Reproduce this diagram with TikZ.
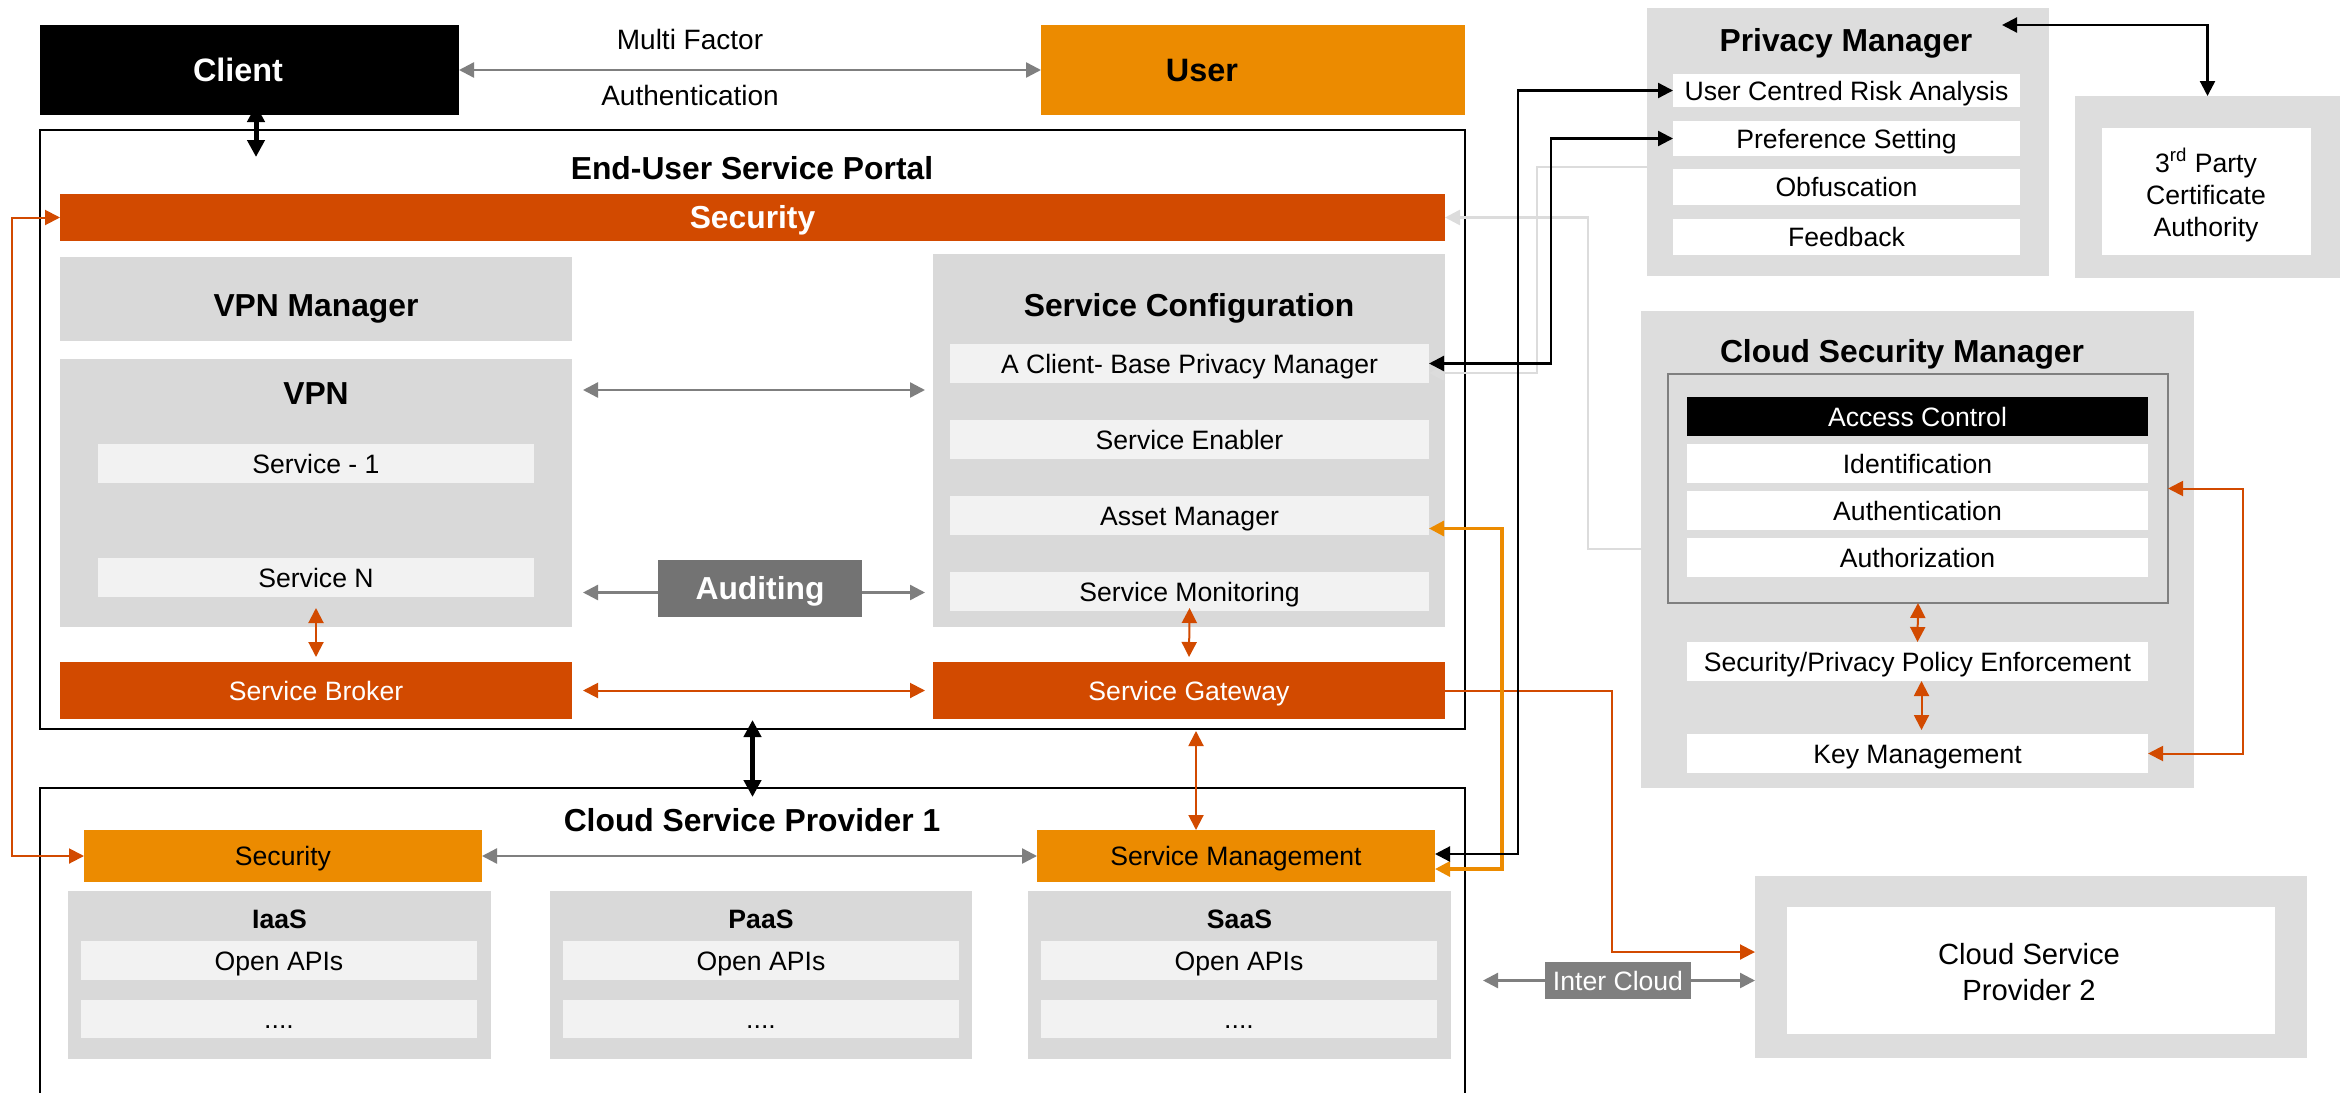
\documentclass[tikz,border=0pt]{standalone}
\usepackage{fontspec}
\setmainfont{Liberation Sans}
\usetikzlibrary{arrows.meta,calc}

\definecolor{rust}{HTML}{D24A00}
\definecolor{amber}{HTML}{EC8B00}
\definecolor{panel}{HTML}{D9D9D9}
\definecolor{panelR}{HTML}{DDDDDD}
\definecolor{slot}{HTML}{F2F2F2}
\definecolor{midgray}{HTML}{7F7F7F}
\definecolor{audit}{HTML}{737373}
\definecolor{faint}{HTML}{DCDCDC}

% box from corner (x1,y1) to (x2,y2), in picture units
\newcommand{\mkbox}[7][]{%
  \pgfmathsetmacro\mkW{(#5-#3)*0.5}%
  \pgfmathsetmacro\mkH{(#6-#4)*0.5}%
  \node[panelbox,#1,minimum width=\mkW pt,minimum height=\mkH pt] (#2) at ({(#3+#5)/2},{(#4+#6)/2}) {#7};}

\tikzset{
  reg/.style={font=\fontsize{13.3}{16}\selectfont, text height=9.52pt, text depth=0pt},
  head/.style={font=\fontsize{15.9}{19}\selectfont\bfseries, text height=11.38pt, text depth=0pt},
  subhead/.style={font=\fontsize{13.3}{16}\selectfont\bfseries, text height=9.52pt, text depth=0pt},
  bighead/.style={font=\fontsize{16.2}{19}\selectfont\bfseries, text height=11.6pt, text depth=0pt},
  panelbox/.style={inner sep=0pt, outer sep=0pt, draw=none, anchor=center, reg},
  lbl/.style={inner sep=0pt, outer sep=0pt, anchor=center},
  gline/.style={draw=midgray, line width=1.2pt},
  rline/.style={draw=rust, line width=1pt},
  kline/.style={draw=black, line width=1.15pt},
  aline/.style={draw=amber, line width=1.6pt},
  fline/.style={draw=faint, line width=1.3pt},
  bigk/.style={draw=black, line width=2.5pt, >={Triangle[length=8.5pt,width=8.5pt]}},
}

\begin{document}
\begin{tikzpicture}[x=0.5pt,y=-0.5pt,>={Triangle[length=7.5pt,width=7.5pt]}]
\useasboundingbox (0,0) rectangle (2349,1092);
\fill[white] (0,0) rectangle (2349,1092);

% ---------- top row ----------
\mkbox[fill=black]{client}{40}{25}{459}{115}{}
\node[lbl,bighead,text=white] (clientT) at (238,70) {Client};
\mkbox[fill=amber]{user}{1041}{25}{1465}{115}{}
\node[lbl,bighead] (userT) at (1202,70) {User};
\node[lbl,font=\fontsize{14}{17}\selectfont,text height=10pt,text depth=0pt] (mf1) at (690,39) {Multi Factor};
\node[lbl,font=\fontsize{14}{17}\selectfont,text height=10pt,text depth=0pt] (mf2) at (690,95) {Authentication};

% ---------- end-user service portal ----------
\mkbox[draw=black,line width=0.85pt]{portal}{40}{130}{1465}{729}{}
\node[lbl,head] (portalT) at (752,168) {End-User Service Portal};
\mkbox[fill=rust,text=white,head]{secbar}{60}{194}{1445}{241}{Security}

\mkbox[fill=panel]{vpnm}{60}{257}{572}{341}{}
\node[lbl,head] (vpnmT) at (316,305) {VPN Manager};
\mkbox[fill=panel]{vpn}{60}{359}{572}{627}{}
\node[lbl,head] (vpnT) at (316,393) {VPN};
\mkbox[fill=slot]{svc1}{98}{444}{534}{483}{Service - 1}
\mkbox[fill=slot]{svcN}{98}{558}{534}{597}{Service N}
\mkbox[fill=rust,text=white]{broker}{60}{662}{572}{719}{Service Broker}

\mkbox[fill=panel]{sc}{933}{254}{1445}{627}{}
\node[lbl,head] (scT) at (1189,305) {Service Configuration};
\mkbox[fill=slot]{scA}{950}{344}{1429}{383}{A Client- Base Privacy Manager}
\mkbox[fill=slot]{scB}{950}{420}{1429}{459}{Service Enabler}
\mkbox[fill=slot]{scC}{950}{496}{1429}{535}{Asset Manager}
\mkbox[fill=slot]{scD}{950}{572}{1429}{611}{Service Monitoring}
\mkbox[fill=rust,text=white]{gw}{933}{662}{1445}{719}{Service Gateway}
\mkbox[fill=audit,text=white,head]{aud}{658}{560}{862}{617}{Auditing}

% ---------- cloud service provider 1 ----------
\mkbox[draw=black,line width=0.85pt]{csp}{40}{788}{1465}{1140}{}
\node[lbl,head] (cspT) at (752,820) {Cloud Service Provider 1};
\mkbox[fill=amber]{sec2}{84}{830}{482}{882}{Security}
\mkbox[fill=amber]{smg}{1037}{830}{1435}{882}{Service Management}

\mkbox[fill=panel]{iaas}{68}{891}{491}{1059}{}
\node[lbl,subhead] (iaasT) at (279.5,919) {IaaS};
\mkbox[fill=slot]{iaasA}{81}{941}{477}{980}{Open APIs}
\mkbox[fill=slot]{iaasB}{81}{1000}{477}{1038}{....}

\mkbox[fill=panel]{paas}{550}{891}{972}{1059}{}
\node[lbl,subhead] (paasT) at (761,919) {PaaS};
\mkbox[fill=slot]{paasA}{563}{941}{959}{980}{Open APIs}
\mkbox[fill=slot]{paasB}{563}{1000}{959}{1038}{....}

\mkbox[fill=panel]{saas}{1028}{891}{1451}{1059}{}
\node[lbl,subhead] (saasT) at (1239.5,919) {SaaS};
\mkbox[fill=slot]{saasA}{1041}{941}{1437}{980}{Open APIs}
\mkbox[fill=slot]{saasB}{1041}{1000}{1437}{1038}{....}

% ---------- privacy manager ----------
\mkbox[fill=panelR]{pm}{1647}{8}{2049}{276}{}
\node[lbl,head] (pmT) at (1846,40) {Privacy Manager};
\mkbox[fill=white]{pmA}{1673}{74}{2020}{107}{User Centred Risk Analysis}
\mkbox[fill=white]{pmB}{1673}{121}{2020}{156}{Preference Setting}
\mkbox[fill=white]{pmC}{1673}{169}{2020}{205}{Obfuscation}
\mkbox[fill=white]{pmD}{1673}{219}{2020}{255}{Feedback}

% ---------- certificate authority ----------
\mkbox[fill=panelR]{tp}{2075}{96}{2340}{278}{}
\mkbox[fill=white]{tpIn}{2102}{128}{2311}{255}{}
\node[lbl,align=center,font=\fontsize{13.3}{16}\selectfont] (tpText) at (2206,195)
  {3\textsuperscript{rd} Party\\Certificate\\Authority};

% ---------- cloud security manager ----------
\mkbox[fill=panelR]{csm}{1641}{311}{2194}{788}{}
\node[lbl,head] (csmT) at (1902,351) {Cloud Security Manager};
\mkbox[draw=midgray,line width=0.75pt]{acf}{1668}{374}{2168}{603}{}
\mkbox[fill=black,text=white]{acc}{1687}{397}{2148}{436}{Access Control}
\mkbox[fill=white]{idn}{1687}{444}{2148}{483}{Identification}
\mkbox[fill=white]{atn}{1687}{491}{2148}{530}{Authentication}
\mkbox[fill=white]{atz}{1687}{538}{2148}{577}{Authorization}
\mkbox[fill=white]{sppe}{1687}{642}{2148}{681}{Security/Privacy Policy Enforcement}
\mkbox[fill=white]{km}{1687}{734}{2148}{773}{Key Management}

% ---------- cloud service provider 2 ----------
\mkbox[fill=panelR]{csp2}{1755}{876}{2307}{1058}{}
\mkbox[fill=white]{csp2In}{1787}{907}{2275}{1034}{}
\node[lbl,align=center,font=\fontsize{14.6}{18}\selectfont] (csp2Text) at (2029,972)
  {Cloud Service\\Provider 2};
\mkbox[fill=midgray,text=white]{ic}{1545}{962}{1691}{999}{Inter Cloud}

% ---------- connectors ----------
\coordinate (cpA) at (256,157);

% light grey links
\draw[fline,->] (csm.west |- 0,549) -- ++(-53,0) |- (secbar.east);
\draw[fline,->] (pm.west |- 0,167) -- ++(-110,0) |- ($(scA.east)+(0,9.5)$);

% grey links
\draw[gline,<->] (client.east) -- (user.west);
\draw[gline,<->,shorten <=5.5pt,shorten >=4pt] (vpn.east |- 0,390) -- (sc.west |- 0,390);
\draw[gline,->,shorten >=5.5pt] ($(aud.west)+(0,4)$) -- ($(aud.west -| vpn.east)+(0,4)$);
\draw[gline,->,shorten >=4pt] ($(aud.east)+(0,4)$) -- ($(aud.east -| sc.west)+(0,4)$);
\draw[gline,<->] (sec2.east) -- (smg.west);
\draw[gline,->,shorten >=9pt] (ic.west) -- (ic.west -| csp.east);
\draw[gline,->] (ic.east) -- (ic.east -| csp2.west);

% security links
\draw[rline,->] (gw.east) -- ++(167,0) |- ($(csp2.west)+(0,-15)$);
\draw[rline,<->] (secbar.west) -- ++(-48,0) |- (sec2.west);
\draw[rline,<->,shorten <=5.5pt,shorten >=2.5pt] (svcN.south) -- (broker.north);
\draw[rline,<->,shorten <=5.5pt,shorten >=4pt] (broker.east) -- (gw.west);
\draw[rline,<->,shorten <=-1.5pt,shorten >=2.5pt] (scD.south) -- (gw.north);
\draw[rline,<->,shorten <=6pt] ([xshift=3.5pt]gw.south) -- ([xshift=3.5pt]gw.south |- smg.north);
\draw[rline,<->] (acf.south) -- (sppe.north);
\draw[rline,<->,shorten >=2pt] ([xshift=2pt]sppe.south) -- ([xshift=2pt]km.north);
\draw[rline,<->] (acf.east) -- ++(75,0) |- (km.east);

% asset management link
\draw[aline,<->] ($(scC.east)+(0,13)$) -- ++(73,0) |- ($(smg.east)+(0,13)$);

% privacy links
\draw[kline,<->] (scA.east) -- ++(122,0) |- (pmB.west);
\draw[kline,<->] ($(smg.east)+(0,-2)$) -- ++(83,0) |- (pmA.west);
\draw[kline,<->] ($(pm.north east)+(-47,17)$) -| (tp.north);

% main vertical links
\draw[bigk,<->] ($(cpA |- client.south)+(0,-10)$) -- (cpA);
\draw[bigk,<->,shorten <=-4.5pt,shorten >=-4.5pt] (portal.south) -- (csp.north);

\end{tikzpicture}
\end{document}
